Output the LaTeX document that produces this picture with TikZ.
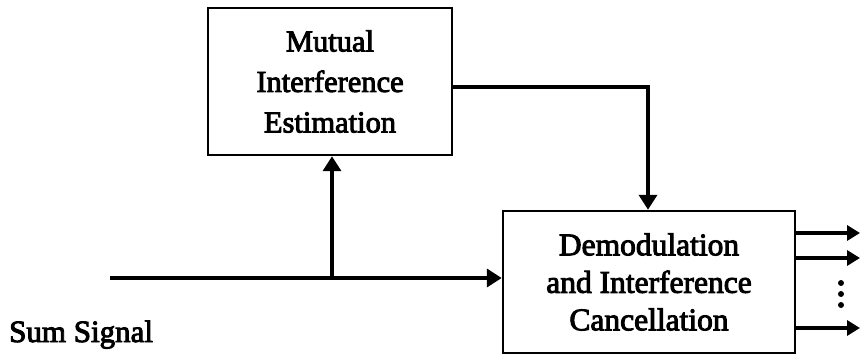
\documentclass[tikz,border=0pt]{standalone}
\usepackage{fontspec}
\setmainfont{Liberation Serif}
\newfontfamily\diagfont[FakeBold=3]{Liberation Serif}
\usetikzlibrary{arrows.meta}
\tikzset{
  blockbox/.style={draw, line width=2.5pt, align=center, inner sep=0pt},
  conn/.style={line width=4pt, -{Triangle[length=15pt,width=18pt]}},
  outconn/.style={line width=4pt, -{Triangle[length=13pt,width=15pt]}},
  lbl/.style={font=\diagfont\fontsize{31}{34}\selectfont, anchor=base west, inner sep=0pt}
}
\begin{document}
\begin{tikzpicture}[x=1pt, y=-1pt]
\useasboundingbox (0,0) rectangle (861,358);
% estimation block
\node[blockbox, minimum width=244pt, minimum height=147pt,
  font=\diagfont\fontsize{30.5}{40.5}\selectfont] (mie) at (330,81.5)
  {Mutual\\Interference\\Estimation};
% cancellation block
\node[blockbox, minimum width=292pt, minimum height=142pt,
  font=\diagfont\fontsize{31.5}{37.5}\selectfont] (dic) at (649,282)
  {Demodulation\\and Interference\\Cancellation};
% sum signal input, with a branch to the estimator
\coordinate (in) at (110,278);
\coordinate (br) at (332,278);
\draw[conn] (in) -- (in -| dic.west);
\draw[conn] (br) -- (br |- mie.south);
% estimate fed into the cancellation block
\coordinate (est) at (mie.east |- 0,87);
\coordinate (bend) at (648,87);
\draw[conn] (est) -- (bend) -- (bend |- dic.north);
% outputs
\foreach \yy/\nm in {233/oa,258/ob,328/oc}{
  \coordinate (\nm) at (dic.east |- 0,\yy);
  \coordinate (\nm e) at (860,\yy);
  \draw[outconn] (\nm) -- (\nm e);
}
\foreach \yy in {283,294,305}
  \fill (841,\yy) circle (3pt);
\node[lbl] (sum) at (9,342) {Sum Signal};
\end{tikzpicture}
\end{document}
